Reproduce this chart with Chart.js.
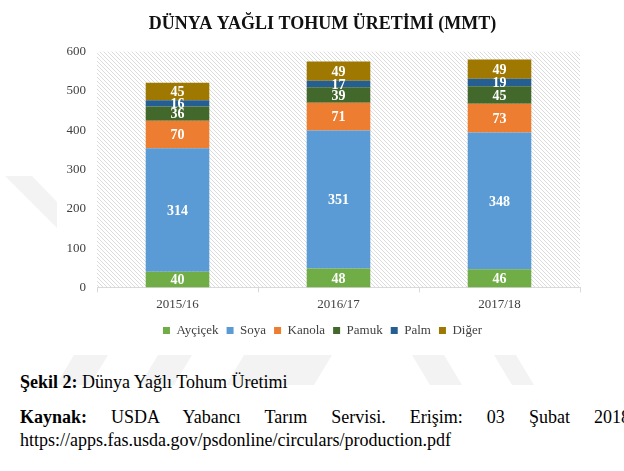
<!DOCTYPE html>
<html>
<head>
<meta charset="utf-8">
<script src="https://cdn.jsdelivr.net/npm/chart.js@4"></script>
<style>
  body { margin: 0; background: #fff; width: 624px; height: 471px; overflow: hidden; position: relative; font-family: 'Liberation Serif', 'Times New Roman', serif; }
  #wm { position: absolute; left: 0; top: 0; }
  #box { position: absolute; left: 0; top: 0; width: 624px; height: 350px; }
  .cap { position: absolute; left: 20px; font-size: 18px; line-height: 20px; color: #000; white-space: nowrap; }
  .just { white-space: normal; width: 610px; text-align: justify; text-align-last: justify; }
</style>
</head>
<body>
<svg id="wm" width="624" height="471">
  <g fill="#f3f3f3">
    <polygon points="5,176 32,176 57,202 57,228"/>
    <polygon points="74,355 108,355 90,385 56,385"/>
    <polygon points="158,355 192,355 174,385 140,385"/>
    <polygon points="244,355 332,355 314,385 226,385"/>
    <polygon points="412,355 444,355 462,385 430,385"/>
    <polygon points="494,355 516,355 534,385 512,385"/>
  </g>
</svg>
<div id="box"><canvas id="chart"></canvas></div>
<div class="cap" style="top:372px"><b>Şekil 2:</b> Dünya Yağlı Tohum Üretimi</div>
<div class="cap just" style="top:407px"><b>Kaynak:</b> USDA Yabancı Tarım Servisi. Erişim: 03 Şubat 2018</div>
<div class="cap" style="top:430px">https://apps.fas.usda.gov/psdonline/circulars/production.pdf</div>
<script>
const seasons = ['2015/16', '2016/17', '2017/18'];
const aycicek = [40, 48, 46];
const soya = [314, 351, 348];
const kanola = [70, 71, 73];
const pamuk = [36, 39, 45];
const palm = [16, 17, 19];
const diger = [45, 49, 49];
const yTicks = [0, 100, 200, 300, 400, 500, 600];

const serif = "'Liberation Serif', 'Times New Roman', serif";

// diagonal hatch behind the plot
const hatchCanvas = document.createElement('canvas');
hatchCanvas.width = 4;
hatchCanvas.height = 4;
const hc = hatchCanvas.getContext('2d');
hc.strokeStyle = '#dcdcdc';
hc.lineWidth = 1;
hc.beginPath();
hc.moveTo(-1, -1); hc.lineTo(5, 5);
hc.moveTo(-1, 3); hc.lineTo(1, 5);
hc.moveTo(3, -1); hc.lineTo(5, 1);
hc.stroke();

const hatchPlugin = {
    id: 'hatch',
    beforeDatasetsDraw(chart) {
        const { ctx, chartArea: a } = chart;
        ctx.save();
        ctx.fillStyle = ctx.createPattern(hatchCanvas, 'repeat');
        ctx.fillRect(a.left, a.top, a.right - a.left, a.bottom - a.top);
        ctx.restore();
    }
};

const valuePlugin = {
    id: 'values',
    afterDatasetsDraw(chart) {
        const ctx = chart.ctx;
        ctx.save();
        ctx.font = 'bold 14px ' + serif;
        ctx.fillStyle = '#fff';
        ctx.textAlign = 'center';
        ctx.textBaseline = 'middle';
        chart.data.datasets.forEach((ds, i) => {
            chart.getDatasetMeta(i).data.forEach((bar, j) => {
                const p = bar.getCenterPoint();
                ctx.fillText(ds.data[j], p.x, p.y + 1);
            });
        });
        ctx.restore();
    }
};

new Chart(document.getElementById('chart'), {
    type: 'bar',
    data: {
        labels: seasons,
        datasets: [
            { label: 'Ayçiçek', data: aycicek, backgroundColor: '#70AD47' },
            { label: 'Soya', data: soya, backgroundColor: '#5B9BD5' },
            { label: 'Kanola', data: kanola, backgroundColor: '#ED7D31' },
            { label: 'Pamuk', data: pamuk, backgroundColor: '#43682B' },
            { label: 'Palm', data: palm, backgroundColor: '#255E91' },
            { label: 'Diğer', data: diger, backgroundColor: '#9E7800' }
        ]
    },
    options: {
        responsive: true,
        maintainAspectRatio: false,
        animation: false,
        categoryPercentage: 1,
        barPercentage: 0.395,
        layout: { padding: { left: 65, right: 44, top: 11, bottom: 3 } },
        plugins: {
            title: {
                display: true,
                text: 'DÜNYA YAĞLI TOHUM ÜRETİMİ (MMT)',
                color: '#111',
                font: { family: serif, size: 18, weight: 'bold' },
                padding: { top: 3, bottom: 16 }
            },
            legend: {
                position: 'bottom',
                labels: {
                    color: '#404040',
                    font: { family: serif, size: 13 },
                    boxWidth: 7,
                    boxHeight: 7,
                    padding: 8
                }
            },
            tooltip: { enabled: false }
        },
        scales: {
            x: {
                stacked: true,
                grid: { display: true, drawOnChartArea: false, offset: true, tickLength: 5, color: '#d9d9d9' },
                border: { color: '#d9d9d9' },
                ticks: { color: '#404040', font: { family: serif, size: 13 }, padding: 4 }
            },
            y: {
                stacked: true,
                min: 0,
                max: 600,
                afterFit: (s) => { s.width = 32; },
                afterBuildTicks: (s) => { s.ticks = yTicks.map(v => ({ value: v })); },
                grid: { display: false, drawTicks: false },
                border: { display: false },
                ticks: { color: '#404040', font: { family: serif, size: 13 }, padding: 11 }
            }
        }
    },
    plugins: [hatchPlugin, valuePlugin]
});
</script>
</body>
</html>
